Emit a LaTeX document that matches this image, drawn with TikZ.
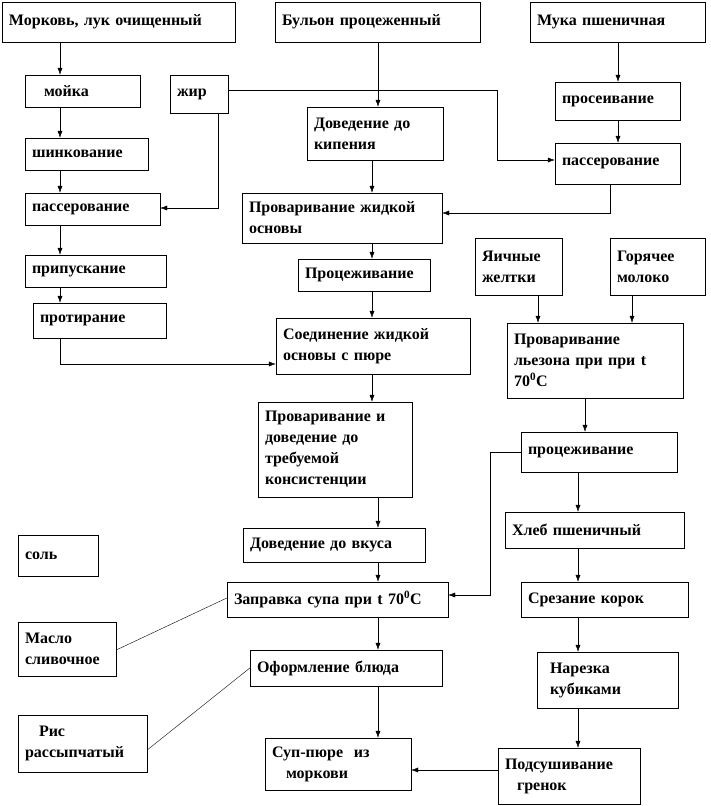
\documentclass[tikz,border=0pt]{standalone}
\usepackage{fontspec}
\setmainfont{Liberation Serif}
\usetikzlibrary{arrows.meta}
\tikzset{blk/.style={draw,thin,inner xsep=7pt,inner ysep=0pt,align=left,
   font=\fontsize{16}{21}\selectfont\bfseries},
  arr/.style={thin,-{Latex[length=7pt,width=5pt]}}}
% box from corner (x1,y1) to (x2,y2), y counted downwards
\newcommand\bx[6]{\node[blk,minimum width={#4pt-#2pt},minimum height={#5pt-#3pt},
   text width={#4pt-#2pt-14pt}] (#1) at ({(#2+#4)/2},{(#3+#5)/2}) {#6};}
\begin{document}
\begin{tikzpicture}[x=1pt,y=-1pt]
   \useasboundingbox (0,0) rectangle (710,806);
   \bx{mork}{2}{2}{235}{42}{Морковь, лук очищенный}
   \bx{bul}{275}{2}{480}{42}{Бульон процеженный}
   \bx{muka}{530}{2}{705}{42}{Мука пшеничная}
   \bx{moika}{25}{75}{140}{107}{\hspace*{12pt}мойка}
   \bx{zhir}{170}{75}{228}{113}{жир}
   \bx{pros}{555}{82}{680}{120}{просеивание}
   \bx{dovkip}{307}{107}{443}{160}{Доведение до кипения}
   \bx{shink}{25}{138}{148}{170}{шинкование}
   \bx{passr}{555}{143}{680}{184}{пассерование}
   \bx{passl}{25}{193}{160}{225}{пассерование}
   \bx{provosn}{242}{193}{442}{243}{Проваривание жидкой основы}
   \bx{pripusk}{25}{255}{166}{287}{припускание}
   \bx{proc}{298}{259}{430}{291}{Процеживание}
   \bx{zhelt}{475}{238}{562}{295}{Яичные желтки}
   \bx{moloko}{610}{238}{705}{295}{Горячее молоко}
   \bx{protir}{33}{303}{166}{338}{протирание}
   \bx{soed}{276}{318}{470}{374}{Соединение жидкой основы с пюре}
   \bx{lezon}{507}{323}{683}{398}{Проваривание\\льезона при при t\\70\textsuperscript{0}C}
   \bx{provkons}{258}{402}{412}{497}{Проваривание и\\доведение до\\требуемой\\консистенции}
   \bx{procr}{521}{432}{677}{472}{процеживание}
   \bx{hleb}{505}{512}{684}{548}{Хлеб пшеничный}
   \bx{sol}{18}{535}{98}{576}{соль}
   \bx{dovvk}{243}{528}{425}{562}{Доведение до вкуса}
   \bx{zapr}{227}{582}{448}{617}{Заправка супа при t 70\textsuperscript{0}C}
   \bx{srez}{521}{582}{688}{617}{Срезание корок}
   \bx{maslo}{18}{622}{116}{676}{Масло сливочное}
   \bx{oform}{250}{650}{442}{686}{Оформление блюда}
   \bx{narez}{537}{652}{678}{708}{\hspace*{6pt}Нарезка\\ \hspace*{6pt}кубиками}
   \bx{ris}{18}{715}{147}{772}{\hspace*{14pt}Рис\\рассыпчатый}
   \bx{sup}{265}{738}{411}{790}{Суп-пюре \ из\\ \hspace*{14pt}моркови}
   \bx{podsush}{498}{748}{640}{804}{Подсушивание\\ \hspace*{12pt}гренок}
   \coordinate (xl) at (60,0);
   \coordinate (xm) at (372,0);
   \coordinate (xn) at (378,0);
   \coordinate (xr) at (618,0);
   \coordinate (xs) at (578,0);
   % left column
   \draw [arr] (mork.south -| xl) -- (moika.north -| xl);
   \draw [arr] (moika.south -| xl) -- (shink.north -| xl);
   \draw [arr] (shink.south -| xl) -- (passl.north -| xl);
   \draw [arr] (passl.south -| xl) -- (pripusk.north -| xl);
   \draw [arr] (pripusk.south -| xl) -- (protir.north -| xl);
   \draw [arr] (protir.south -| xl) -- (60,364) -- (soed.west |- 0,364);
   % fat
   \draw [arr] (zhir.south -| 218,0) -- (218,208) -- (passl.east |- 0,208);
   \draw [arr] (zhir.east |- 0,90) -- (497,90) -- (497,160) -- (passr.west |- 0,160);
   % middle column
   \draw [arr] (bul.south -| xn) -- (dovkip.north -| xn);
   \draw [arr] (dovkip.south -| xm) -- (provosn.north -| xm);
   \draw [arr] (provosn.south -| xm) -- (proc.north -| xm);
   \draw [arr] (proc.south -| xm) -- (soed.north -| xm);
   \draw [arr] (soed.south -| xm) -- (provkons.north -| xm);
   \draw [arr] (provkons.south -| xn) -- (dovvk.north -| xn);
   \draw [arr] (dovvk.south -| xn) -- (zapr.north -| xn);
   \draw [arr] (zapr.south -| xn) -- (oform.north -| xn);
   \draw [arr] (oform.south -| xn) -- (sup.north -| xn);
   % flour
   \draw [arr] (muka.south -| xr) -- (pros.north -| xr);
   \draw [arr] (pros.south -| xr) -- (passr.north -| xr);
   \draw [arr] (passr.south -| 610,0) -- (610,213) -- (provosn.east |- 0,213);
   % liaison and croutons
   \draw [arr] (zhelt.south -| 538,0) -- (lezon.north -| 538,0);
   \draw [arr] (moloko.south -| 632,0) -- (lezon.north -| 632,0);
   \draw [arr] (lezon.south -| 585,0) -- (procr.north -| 585,0);
   \draw [arr] (procr.west) -- (490,452) -- (490,595) -- (zapr.east |- 0,595);
   \draw [arr] (procr.south -| xs) -- (hleb.north -| xs);
   \draw [arr] (hleb.south -| xs) -- (srez.north -| xs);
   \draw [arr] (srez.south -| xs) -- (narez.north -| xs);
   \draw [arr] (narez.south -| xs) -- (podsush.north -| xs);
   \draw [arr] (podsush.west |- 0,770) -- (sup.east |- 0,770);
   % plain links
   \draw (maslo.east |- 0,650) -- (zapr.west |- 0,598);
   \draw (ris.east |- 0,750) -- (oform.west |- 0,668);
\end{tikzpicture}
\end{document}
